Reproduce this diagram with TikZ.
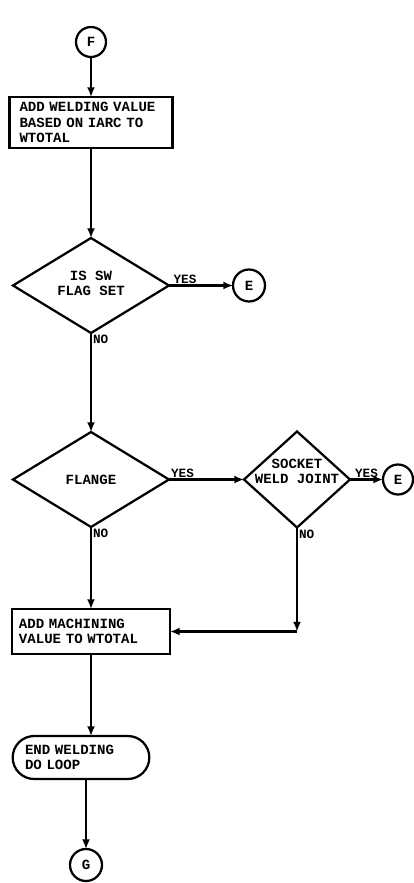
\documentclass[tikz,border=0pt]{standalone}
\usepackage{fontspec}
\setmonofont{Liberation Mono}
\usetikzlibrary{shapes.geometric, shapes.misc, arrows.meta, positioning}

\begin{document}
\begin{tikzpicture}[
        node distance=2cm,
        every node/.style={outer sep=0pt, font=\ttfamily\bfseries\fontsize{10}{11}\selectfont},
        process/.style={rectangle, draw, line width=1.6pt, align=left, inner ysep=2pt},
        decision/.style={diamond, draw, line width=1.6pt, minimum width=3.9cm, minimum height=2.375cm, inner sep=0pt},
        connector/.style={circle, draw, line width=1.6pt, minimum size=0.75cm, inner sep=0pt},
        terminal/.style={rounded rectangle, draw, line width=1.6pt, minimum width=3.65cm, minimum height=1.075cm, text width=2.8cm, align=left},
        tag/.style={font=\ttfamily\bfseries\fontsize{9}{10}\selectfont, inner sep=1.5pt},
        arrow/.style={-{Latex[length=2.4mm, width=2mm]}, line width=1.6pt}
    ]
        \useasboundingbox (0,0) rectangle (10.325,-22.075);

        % Nodes
        \node[connector] (f) at (2.275,-1.05) {F};
        \node[process, below=1cm of f, text width=3.575cm, inner xsep=0.25cm, minimum height=1.275cm] (weld) {ADD WELDING VALUE\\BASED ON IARC TO\\WTOTAL};
        \node[decision, below=2.25cm of weld, label={[align=center, yshift=0.05cm]center:IS SW\\FLAG SET}] (swflag) {};
        \node[connector, right=1.6cm of swflag, minimum size=0.8cm] (e1) {E};
        \node[decision, below=2.475cm of swflag, label={center:FLANGE}] (flange) {};
        \node[decision, right=1.875cm of flange, minimum width=2.65cm, minimum height=2.4cm, label={[align=center, yshift=0.2cm]center:SOCKET\\WELD JOINT}] (socket) {};
        \node[connector, right=0.825cm of socket] (e2) {E};
        \node[process, below=2.05cm of flange, text width=3.6cm, inner xsep=0.175cm, minimum height=1.125cm] (mach) {ADD MACHINING\\VALUE TO WTOTAL};
        \node[terminal, below=2.05cm of mach, xshift=-0.25cm] (endloop) {END WELDING\\DO LOOP};
        \node[connector, below=1.75cm of endloop, xshift=0.125cm, minimum size=0.8cm] (g) {G};
        \coordinate (join) at (socket.south |- mach.east);

        % Paths
        \draw[arrow] (f) -- (weld);
        \draw[arrow] (weld) -- (swflag);
        \draw[arrow] (swflag) -- (e1) node[tag, near start, above] {YES};
        \draw[arrow] (swflag) -- (flange) node[tag, pos=0, anchor=north west] {NO};
        \draw[arrow] (flange) -- (socket) node[tag, pos=0, anchor=south west] {YES};
        \draw[arrow] (socket) -- (e2) node[tag, midway, above] {YES};
        \draw[arrow] (flange) -- (mach) node[tag, pos=0, anchor=north west] {NO};
        \draw[arrow] (socket.south) -- (join) node[tag, pos=0, anchor=north west] {NO};
        \draw[arrow] (join) -- (mach);
        \draw[arrow] (mach) -- (mach |- endloop.north);
        \draw[arrow] (g |- endloop.south) -- (g);

    \end{tikzpicture}
\end{document}
